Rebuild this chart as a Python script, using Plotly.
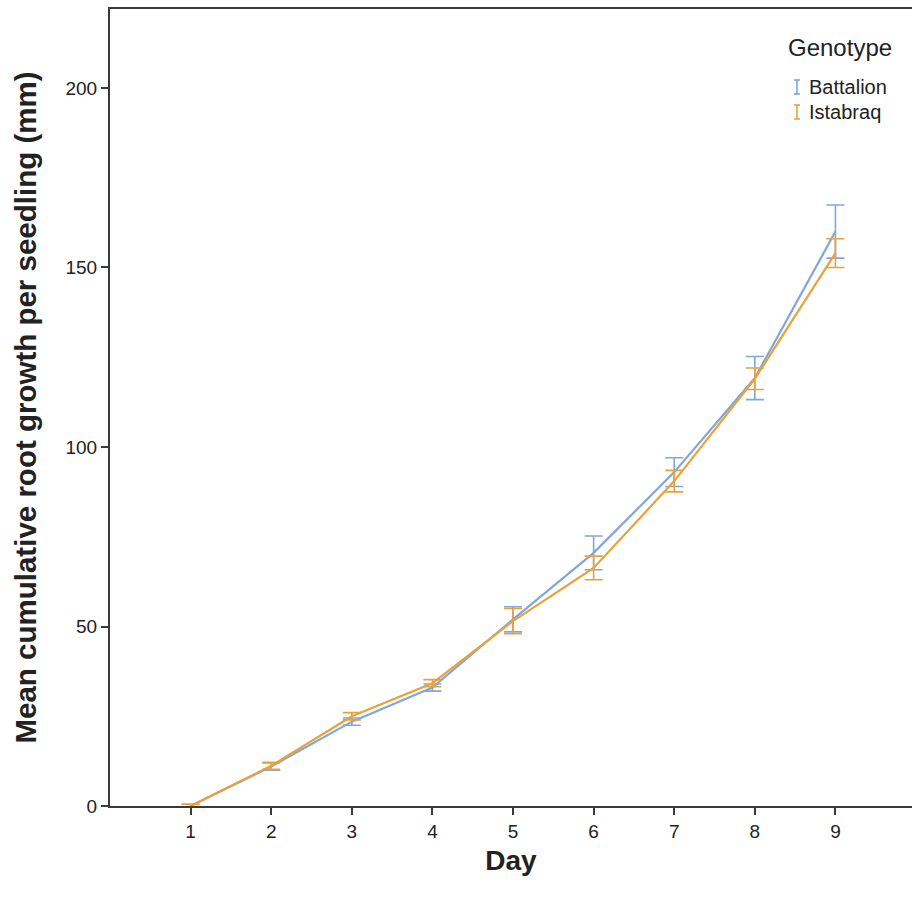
import plotly.graph_objects as go

# Mean cumulative root growth per seedling by day, with error bars
days = [1, 2, 3, 4, 5, 6, 7, 8, 9]
battalion_mean = [0.0, 11.0, 23.5, 33.0, 52.0, 70.5, 93.0, 119.2, 160.0]
battalion_err = [0.5, 1.0, 1.0, 1.0, 3.5, 4.7, 4.0, 6.0, 7.4]
istabraq_mean = [0.0, 11.2, 25.0, 34.2, 51.5, 66.3, 90.5, 119.0, 154.0]
istabraq_err = [0.5, 1.0, 1.0, 1.0, 3.5, 3.3, 3.0, 3.0, 4.0]

series_names = ["Battalion", "Istabraq"]
series_colors = ["#80A7DA", "#E9A23B"]
legend_title = "Genotype"

W, H = 912, 899
M_L, M_R, M_T, M_B = 110, 0, 9, 93
PW, PH = W - M_L - M_R, H - M_T - M_B


def px_x(x):
    return (x - M_L) / PW


def px_y(y):
    return (H - M_B - y) / PH


fig = go.Figure()
for name, mean, err, color in zip(
    series_names,
    [battalion_mean, istabraq_mean],
    [battalion_err, istabraq_err],
    series_colors,
):
    fig.add_trace(
        go.Scatter(
            x=days,
            y=mean,
            name=name,
            mode="lines",
            line=dict(color=color, width=2.2),
            error_y=dict(type="data", array=err, color=color, thickness=1.6, width=9),
            showlegend=False,
        )
    )

axis_color = "#3a3a3a"
font_family = "Liberation Sans, Arial, sans-serif"

fig.update_layout(
    width=W,
    height=H,
    margin=dict(l=M_L, r=M_R, t=M_T, b=M_B),
    paper_bgcolor="white",
    plot_bgcolor="white",
    font=dict(family=font_family, color="#222222"),
    xaxis=dict(
        range=[0, 9.95],
        tickvals=days,
        ticktext=[str(d) for d in days],
        ticks="outside",
        ticklen=7,
        tickwidth=2,
        tickcolor=axis_color,
        showline=True,
        linecolor=axis_color,
        linewidth=2,
        mirror=True,
        showgrid=False,
        zeroline=False,
        tickfont=dict(size=19),
        title=dict(text="<b>Day</b>", font=dict(size=28), standoff=10),
    ),
    yaxis=dict(
        range=[0, 222],
        tickvals=[0, 50, 100, 150, 200],
        ticks="outside",
        ticklen=7,
        tickwidth=2,
        tickcolor=axis_color,
        showline=True,
        linecolor=axis_color,
        linewidth=2,
        showgrid=False,
        zeroline=False,
        tickfont=dict(size=19),
        title=dict(
            text="<b>Mean cumulative root growth per seedling (mm)</b>",
            font=dict(size=29.5),
            standoff=20,
        ),
    ),
)

# Legend drawn as text plus small I-beam glyphs for the error-bar series
fig.add_annotation(
    x=px_x(786), y=px_y(47), xref="paper", yref="paper",
    text=legend_title, showarrow=False, xanchor="left", yanchor="middle",
    font=dict(size=24, color="#222222"),
)
for i, (name, color) in enumerate(zip(series_names, series_colors)):
    cy = 87 + 25 * i
    fig.add_annotation(
        x=px_x(807), y=px_y(cy), xref="paper", yref="paper",
        text=name, showarrow=False, xanchor="left", yanchor="middle",
        font=dict(size=20, color="#222222"),
    )
    sx = 797
    for (x0, y0, x1, y1) in [
        (sx, cy - 7, sx, cy + 7),
        (sx - 3, cy - 7, sx + 3, cy - 7),
        (sx - 3, cy + 7, sx + 3, cy + 7),
    ]:
        fig.add_shape(
            type="line", xref="paper", yref="paper",
            x0=px_x(x0), y0=px_y(y0), x1=px_x(x1), y1=px_y(y1),
            line=dict(color=color, width=1.6),
        )

fig.write_html("out.html")
